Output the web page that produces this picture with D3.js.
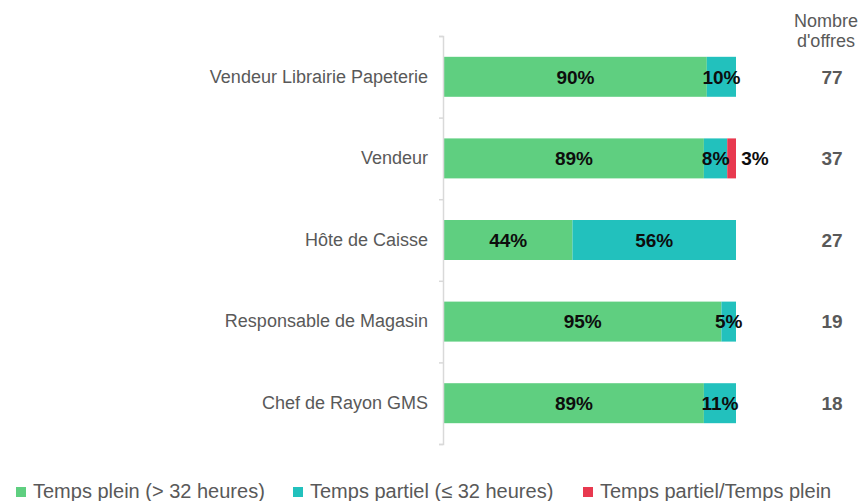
<!DOCTYPE html>
<html>
<head>
<meta charset="utf-8">
<script src="https://cdn.jsdelivr.net/npm/d3@7"></script>
<style>
  body { margin: 0; background: #fff; overflow: hidden; }
  text { font-family: "Liberation Sans", Arial, sans-serif; }
</style>
</head>
<body>
<div id="chart"></div>
<script>
// data
var categories = ["Vendeur Librairie Papeterie", "Vendeur", "Hôte de Caisse", "Responsable de Magasin", "Chef de Rayon GMS"];
var tempsPlein = [0.90, 0.89, 0.44, 0.95, 0.89];
var tempsPartiel = [0.10, 0.08, 0.56, 0.05, 0.11];
var partielPlein = [0, 0.03, 0, 0, 0];
var nbOffres = [77, 37, 27, 19, 18];
var seriesNames = ["Temps plein (> 32 heures)", "Temps partiel (\u2264 32 heures)", "Temps partiel/Temps plein"];
var colors = ["#5fcf80", "#22c1bd", "#e8394f"];

var attrs = {
    svgWidth: 861,
    svgHeight: 501,
    axisX: 443,
    barLeft: 444,
    barRight: 736,
    top: 36,
    bottom: 444
};

var svg = d3.select("#chart").append("svg")
    .attr("width", attrs.svgWidth)
    .attr("height", attrs.svgHeight)
    .style("display", "block");

var y = d3.scaleBand()
    .domain(categories)
    .range([attrs.top, attrs.bottom])
    .paddingInner(0.51)
    .paddingOuter(0.255);

var x = d3.scaleLinear()
    .domain([0, 1])
    .range([attrs.barLeft, attrs.barRight]);

// stack the three series
var rows = categories.map(function (c, i) {
    return { cat: c, s0: tempsPlein[i], s1: tempsPartiel[i], s2: partielPlein[i] };
});
var stack = d3.stack().keys(["s0", "s1", "s2"]);
var stacked = stack(rows);

// bars
var layers = svg.append("g").selectAll("g")
    .data(stacked)
    .enter().append("g")
    .attr("fill", function (d, i) { return colors[i]; });

layers.selectAll("rect")
    .data(function (d) { return d; })
    .enter().append("rect")
    .attr("x", function (d) { return x(d[0]); })
    .attr("y", function (d) { return y(d.data.cat); })
    .attr("width", function (d) { return x(d[1]) - x(d[0]); })
    .attr("height", y.bandwidth());

// value labels (the small red segment gets its label outside, on the right)
stacked.forEach(function (layer, li) {
    svg.append("g").selectAll("text")
        .data(layer.filter(function (d) { return d[1] - d[0] > 0; }))
        .enter().append("text")
        .attr("x", function (d) {
            if (li === 2) return x(d[1]) + 19;
            return (x(d[0]) + x(d[1])) / 2;
        })
        .attr("y", function (d) { return y(d.data.cat) + y.bandwidth() / 2; })
        .attr("dy", "0.36em")
        .attr("text-anchor", "middle")
        .style("font-size", "19px")
        .style("font-weight", "bold")
        .attr("fill", "#0d0d0d")
        .text(function (d) { return Math.round((d[1] - d[0]) * 100) + "%"; });
});

// category axis (labels only)
var yAxis = d3.axisLeft(y).tickSize(0).tickPadding(15);
var gy = svg.append("g")
    .attr("transform", "translate(" + attrs.axisX + ",0)")
    .call(yAxis);
gy.select(".domain").remove();
gy.selectAll("text")
    .style("font-size", "18px")
    .style("font-family", "'Liberation Sans', Arial, sans-serif")
    .attr("fill", "#595959");

// axis line with ticks at band boundaries
var yEdge = d3.scaleLinear().domain([0, categories.length]).range([attrs.top, attrs.bottom]);
var gEdge = svg.append("g")
    .attr("transform", "translate(" + attrs.axisX + ",0)")
    .call(d3.axisLeft(yEdge).ticks(categories.length).tickSize(4).tickSizeOuter(4).tickFormat(""));
gEdge.selectAll("path, line")
    .attr("stroke", "#d9d9d9")
    .attr("stroke-width", 1.5);

// nombre d'offres column
svg.append("text")
    .attr("x", 826).attr("y", 27)
    .attr("text-anchor", "middle")
    .style("font-size", "18px")
    .attr("fill", "#595959")
    .text("Nombre");
svg.append("text")
    .attr("x", 826).attr("y", 47)
    .attr("text-anchor", "middle")
    .style("font-size", "18px")
    .attr("fill", "#595959")
    .text("d'offres");

svg.append("g").selectAll("text")
    .data(nbOffres)
    .enter().append("text")
    .attr("x", 832)
    .attr("y", function (d, i) { return y(categories[i]) + y.bandwidth() / 2; })
    .attr("dy", "0.36em")
    .attr("text-anchor", "middle")
    .style("font-size", "19px")
    .style("font-weight", "bold")
    .attr("fill", "#595959")
    .text(function (d) { return d; });

// legend
var legendX = [16, 293, 583];
var legend = svg.append("g").selectAll("g")
    .data(seriesNames)
    .enter().append("g")
    .attr("transform", function (d, i) { return "translate(" + legendX[i] + ",0)"; });
legend.append("rect")
    .attr("x", 0).attr("y", 487)
    .attr("width", 10).attr("height", 10)
    .attr("fill", function (d, i) { return colors[i]; });
legend.append("text")
    .attr("x", 17).attr("y", 498)
    .style("font-size", "20px")
    .attr("fill", "#595959")
    .text(function (d) { return d; });
</script>
</body>
</html>
